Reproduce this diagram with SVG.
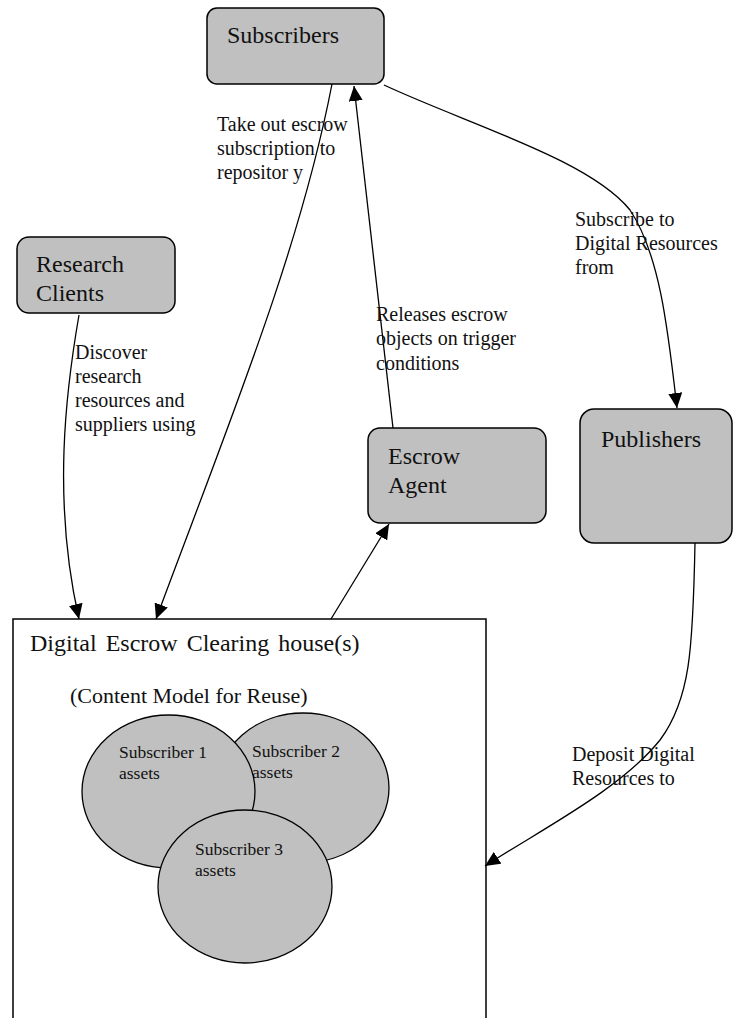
<svg xmlns="http://www.w3.org/2000/svg" width="733" height="1018" viewBox="0 0 733 1018">
  <style>
    .node { fill: #c0c0c0; stroke: #000; stroke-width: 1.5; }
    .house { fill: #fff; stroke: #000; stroke-width: 1.5; }
    .asset { fill: #c0c0c0; stroke: #000; stroke-width: 1.3; }
    .edge { fill: none; stroke: #000; stroke-width: 1.3; marker-end: url(#arrow); }
    .plain { fill: none; stroke: #000; stroke-width: 1.3; }
    text { font-family: "Liberation Serif", "Times New Roman", serif; fill: #111; }
    .big { font-size: 24px; }
    .lbl { font-size: 20px; }
    .small { font-size: 17.5px; }
  </style>
  <defs>
    <marker id="arrow" markerUnits="userSpaceOnUse" markerWidth="16" markerHeight="14" refX="15" refY="7" orient="auto">
      <path d="M0,0 L15,7 L0,14 Z" fill="#000"/>
    </marker>
  </defs>

  <rect width="733" height="1018" fill="#fff"/>

  <!-- clearinghouse container (open at the page bottom) -->
  <g id="clearinghouse">
    <rect class="house" x="13" y="619" width="473" height="420"/>
    <text class="big" x="30" y="651" word-spacing="3">Digital Escrow Clearing house(s)</text>
    <text x="70" y="703" font-size="22">(Content Model for Reuse)</text>
  </g>

  <g id="asset2">
    <ellipse class="asset" cx="303" cy="788" rx="86" ry="75"/>
    <text class="small" x="252" y="757">Subscriber 2</text>
    <text class="small" x="252" y="778">assets</text>
  </g>
  <g id="asset1">
    <ellipse class="asset" cx="168.5" cy="791.5" rx="86.5" ry="76.5"/>
    <text class="small" x="119" y="758">Subscriber 1</text>
    <text class="small" x="119" y="779">assets</text>
  </g>
  <g id="asset3">
    <ellipse class="asset" cx="245" cy="886.5" rx="87" ry="76.5"/>
    <text class="small" x="195" y="855">Subscriber 3</text>
    <text class="small" x="195" y="876">assets</text>
  </g>

  <g id="subscribers">
    <rect class="node" x="207" y="8" width="177" height="76" rx="10"/>
    <text class="big" x="227" y="43">Subscribers</text>
  </g>

  <g id="research-clients">
    <rect class="node" x="17" y="237" width="158" height="76" rx="12"/>
    <text class="big" x="36" y="272">Research</text>
    <text class="big" x="36" y="301">Clients</text>
  </g>

  <g id="escrow-agent">
    <rect class="node" x="368" y="428" width="178" height="95" rx="12"/>
    <text class="big" x="388" y="464">Escrow</text>
    <text class="big" x="388" y="493">Agent</text>
  </g>

  <g id="publishers">
    <rect class="node" x="580" y="409" width="152" height="134" rx="14"/>
    <text class="big" x="601" y="447">Publishers</text>
  </g>

  <g id="connectors">
    <path class="edge" d="M79,315 C66,390 52,500 79,619"/>
    <path class="edge" d="M332,84 C300,250 230,420 156,619"/>
    <path class="edge" d="M393,428 L354,86"/>
    <path class="edge" d="M331,619 L389,524"/>
    <path class="edge" d="M384,85 C470,125 590,160 630,210 C660,255 668,330 677,408"/>
    <path class="edge" d="M695,543 C693,650 690,700 660,740 C620,790 540,830 485,866"/>
  </g>

  <g id="edge-labels">
    <text class="lbl" x="217" y="131">Take out escrow</text>
    <text class="lbl" x="217" y="155">subscription to</text>
    <text class="lbl" x="217" y="179">repositor y</text>

    <text class="lbl" x="575" y="226">Subscribe to</text>
    <text class="lbl" x="575" y="250">Digital Resources</text>
    <text class="lbl" x="575" y="274">from</text>

    <text class="lbl" x="376" y="321">Releases escrow</text>
    <text class="lbl" x="376" y="345">objects on trigger</text>
    <text class="lbl" x="376" y="370">conditions</text>

    <text class="lbl" x="75" y="359">Discover</text>
    <text class="lbl" x="75" y="383">research</text>
    <text class="lbl" x="75" y="407">resources and</text>
    <text class="lbl" x="75" y="431">suppliers using</text>

    <text class="lbl" x="572" y="761">Deposit Digital</text>
    <text class="lbl" x="572" y="785">Resources to</text>
  </g>
</svg>
